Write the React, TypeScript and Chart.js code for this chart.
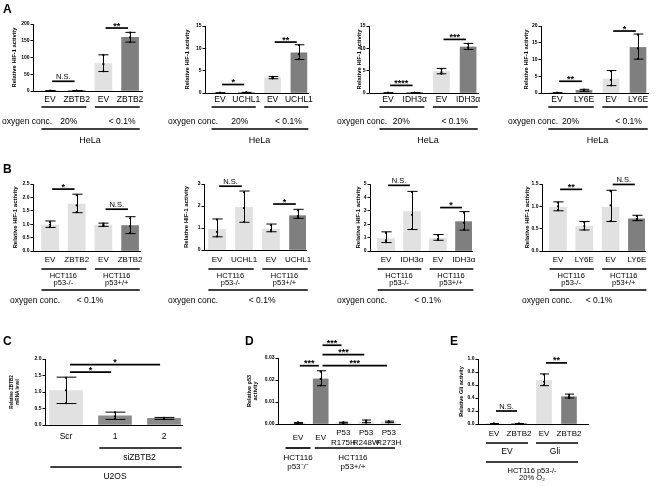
import React, { useEffect, useRef } from 'react';
import { Chart, registerables } from 'chart.js';

Chart.register(...registerables);

const W = 659;
const H = 486;
const FF = "'Liberation Sans', Arial, Helvetica, sans-serif";
const LIGHT = '#e1e1e1';
const DARK = '#7f7f7f';
const MID = '#8b8b8b';

const Y_HIF = 'Relative HIF-1 activity';
const NORMOXIA = '20%';
const HYPOXIA = '< 0.1%';
const OXY = 'oxygen conc.';

// ---------- Panel A ----------
const A1_CATS = ['EV', 'ZBTB2', 'EV', 'ZBTB2'];
const A1_MEAN = [0.6, 0.6, 82, 160];
const A1_LOW = [0.4, 0.4, 58, 146];
const A1_HIGH = [0.8, 0.8, 108, 175];
const A1_PTS = [[0.3, 0.6, 0.8], [0.4, 0.6, 0.8], [59, 80, 107], [146, 160, 174]];
const A1_SIG = [{ a: 0, b: 1, y: 29, t: 'N.S.' }, { a: 2, b: 3, y: 188, t: '**' }];

const A2_CATS = ['EV', 'UCHL1', 'EV', 'UCHL1'];
const A2_MEAN = [0.02, 0.1, 3.4, 9.0];
const A2_LOW = [0.01, 0.05, 3.2, 7.5];
const A2_HIGH = [0.03, 0.15, 3.7, 10.8];
const A2_PTS = [[0.01, 0.02, 0.03], [0.06, 0.1, 0.14], [3.25, 3.4, 3.6], [7.6, 8.7, 10.7]];
const A2_SIG = [{ a: 0, b: 1, y: 1.9, t: '*' }, { a: 2, b: 3, y: 11.4, t: '**' }];

const A3_CATS = ['EV', 'IDH3α', 'EV', 'IDH3α'];
const A3_MEAN = [0.02, 0.03, 4.8, 10.3];
const A3_LOW = [0.01, 0.02, 4.3, 9.75];
const A3_HIGH = [0.03, 0.04, 5.5, 11.1];
const A3_PTS = [[0.01, 0.02, 0.03], [0.02, 0.03, 0.04], [4.3, 4.6, 5.4], [9.8, 10.2, 11.0]];
const A3_SIG = [{ a: 0, b: 1, y: 1.7, t: '****' }, { a: 2, b: 3, y: 12.0, t: '***' }];

const A4_CATS = ['EV', 'LY6E', 'EV', 'LY6E'];
const A4_MEAN = [0.05, 0.8, 4.2, 13.6];
const A4_LOW = [0.03, 0.5, 2.2, 10.1];
const A4_HIGH = [0.07, 1.1, 6.7, 17.6];
const A4_PTS = [[0.03, 0.05, 0.07], [0.6, 0.8, 1.0], [2.3, 3.9, 6.5], [10.2, 13.3, 17.4]];
const A4_SIG = [{ a: 0, b: 1, y: 3.5, t: '**' }, { a: 2, b: 3, y: 18.5, t: '*' }];

// ---------- Panel B ----------
const B1_CATS = ['EV', 'ZBTB2', 'EV', 'ZBTB2'];
const B1_MEAN = [0.97, 1.75, 0.97, 0.95];
const B1_LOW = [0.88, 1.43, 0.92, 0.65];
const B1_HIGH = [1.12, 2.12, 1.04, 1.28];
const B1_PTS = [[0.9, 0.98, 1.08], [1.45, 1.7, 2.08], [0.93, 0.97, 1.02], [0.68, 0.92, 1.22]];
const B1_SIG = [{ a: 0, b: 1, y: 2.31, t: '*' }, { a: 2, b: 3, y: 1.56, t: 'N.S.' }];

const B2_CATS = ['EV', 'UCHL1', 'EV', 'UCHL1'];
const B2_MEAN = [0.94, 1.94, 0.95, 1.56];
const B2_LOW = [0.6, 1.26, 0.83, 1.44];
const B2_HIGH = [1.41, 2.68, 1.18, 1.85];
const B2_PTS = [[0.62, 0.82, 1.38], [1.28, 1.9, 2.62], [0.85, 0.9, 1.12], [1.46, 1.55, 1.8]];
const B2_SIG = [{ a: 0, b: 1, y: 2.9, t: 'N.S.' }, { a: 2, b: 3, y: 2.09, t: '*' }];

const B3_CATS = ['EV', 'IDH3α', 'EV', 'IDH3α'];
const B3_MEAN = [0.93, 2.94, 0.93, 2.19];
const B3_LOW = [0.63, 1.6, 0.8, 1.56];
const B3_HIGH = [1.43, 4.45, 1.23, 2.94];
const B3_PTS = [[0.66, 0.8, 1.35], [1.65, 2.7, 4.4], [0.82, 0.9, 1.15], [1.6, 2.1, 2.85]];
const B3_SIG = [{ a: 0, b: 1, y: 4.9, t: 'N.S.' }, { a: 2, b: 3, y: 3.24, t: '*' }];

const B4_CATS = ['EV', 'LY6E', 'EV', 'LY6E'];
const B4_MEAN = [0.98, 0.55, 0.98, 0.72];
const B4_LOW = [0.9, 0.47, 0.66, 0.68];
const B4_HIGH = [1.1, 0.66, 1.36, 0.8];
const B4_PTS = [[0.92, 1.0, 1.08], [0.48, 0.56, 0.64], [0.67, 1.02, 1.34], [0.69, 0.72, 0.78]];
const B4_SIG = [{ a: 0, b: 1, y: 1.38, t: '**' }, { a: 2, b: 3, y: 1.49, t: 'N.S.' }];

// ---------- Panel C ----------
const C_CATS = ['Scr', '1', '2'];
const C_MEAN = [1.04, 0.28, 0.2];
const C_LOW = [0.65, 0.17, 0.17];
const C_HIGH = [1.45, 0.39, 0.23];
const C_PTS = [[0.66, 1.05, 1.43], [0.19, 0.26, 0.38], [0.18, 0.2, 0.22]];
const C_SIG = [{ a: 0, b: 1, y: 1.6, t: '*' }, { a: 0, b: 2, y: 1.83, t: '*' }];

// ---------- Panel D ----------
const D_CATS = ['EV', 'EV', 'P53\nR175H', 'P53\nR248W', 'P53\nR273H'];
const D_MEAN = [0.0005, 0.0205, 0.0006, 0.001, 0.0009];
const D_LOW = [0.0003, 0.0174, 0.0004, 0.0006, 0.0006];
const D_HIGH = [0.0007, 0.0242, 0.0008, 0.0018, 0.0013];
const D_PTS = [[0.0003, 0.0005, 0.0007], [0.0176, 0.0205, 0.0238], [0.0005, 0.0006, 0.0008], [0.0006, 0.001, 0.0016], [0.0007, 0.0009, 0.0012]];
const D_SIG = [
  { a: 0, b: 1, y: 0.0265, t: '***' },
  { a: 1, b: 2, y: 0.0358, t: '***' },
  { a: 1, b: 3, y: 0.0315, t: '***' },
  { a: 1, b: 4, y: 0.0265, t: '***' },
];

// ---------- Panel E ----------
const E_CATS = ['EV', 'ZBTB2', 'EV', 'ZBTB2'];
const E_MEAN = [0.005, 0.004, 0.67, 0.42];
const E_LOW = [0.003, 0.002, 0.59, 0.4];
const E_HIGH = [0.007, 0.006, 0.77, 0.46];
const E_PTS = [[0.003, 0.005, 0.007], [0.002, 0.004, 0.006], [0.6, 0.65, 0.76], [0.4, 0.42, 0.45]];
const E_SIG = [{ a: 0, b: 1, y: 0.2, t: 'N.S.' }, { a: 2, b: 3, y: 0.94, t: '**' }];

const A_COLORS = [LIGHT, DARK, LIGHT, DARK];
const B_COLORS = [LIGHT, LIGHT, LIGHT, DARK];

const aLines = [{ a: 0, b: 1, y: 107 }, { a: 2, b: 3, y: 107 }, { a: 0, b: 3, y: 129 }];
const bLines = [{ a: 0, b: 1, y: 269 }, { a: 2, b: 3, y: 269 }, { a: 0, b: 3, y: 290 }];

function aTexts(oxyX: number, nDx: number, hDx: number) {
  return [
    { px: oxyX, y: 122, t: OXY, align: 'left' },
    { x: 0.5 + nDx, y: 122, t: NORMOXIA },
    { x: 2.5 + hDx, y: 122, t: HYPOXIA },
    { x: 1.5, y: 141, t: 'HeLa', size: 9 },
  ];
}
function bTexts(oxyX: number, hX: number) {
  return [
    { x: 0.5, y: 279.5, t: 'HCT116\np53-/-', size: 7.5, lh: 7 },
    { x: 2.5, y: 279.5, t: 'HCT116\np53+/+', size: 7.5, lh: 7 },
    { px: oxyX, y: 300.5, t: OXY, align: 'left' },
    { x: hX, y: 300.5, t: HYPOXIA },
  ];
}

const CFGS: any[] = [
  { cats: A1_CATS, mean: A1_MEAN, low: A1_LOW, high: A1_HIGH, pts: A1_PTS, colors: A_COLORS, sig: A1_SIG,
    yMax: 200, yStep: 50, yDec: 0, title: Y_HIF, titleSize: 5.8,
    L: 33, R: 142, T: 24, B: 91, c0: 50, s: 26.7, barW: 17, YW: 22, catY: 100, catSize: 8.5,
    lines: aLines, texts: aTexts(2, 0.2, 0.2) },
  { cats: A2_CATS, mean: A2_MEAN, low: A2_LOW, high: A2_HIGH, pts: A2_PTS, colors: A_COLORS, sig: A2_SIG,
    yMax: 15, yStep: 5, yDec: 0, title: Y_HIF, titleSize: 5.8,
    L: 205, R: 308, T: 26, B: 93, c0: 220, s: 26.3, barW: 16, YW: 21, catY: 100, catSize: 8.5,
    lines: aLines, texts: aTexts(168, 0.25, 0.1) },
  { cats: A3_CATS, mean: A3_MEAN, low: A3_LOW, high: A3_HIGH, pts: A3_PTS, colors: A_COLORS, sig: A3_SIG,
    yMax: 15, yStep: 5, yDec: 0, title: Y_HIF, titleSize: 5.8,
    L: 369, R: 478, T: 26, B: 93, c0: 388, s: 26.7, barW: 16, YW: 13, catY: 100, catSize: 8.5,
    lines: aLines, texts: aTexts(337, 0, 0) },
  { cats: A4_CATS, mean: A4_MEAN, low: A4_LOW, high: A4_HIGH, pts: A4_PTS, colors: A_COLORS, sig: A4_SIG,
    yMax: 20, yStep: 5, yDec: 0, title: Y_HIF, titleSize: 5.8,
    L: 541, R: 648, T: 26, B: 93, c0: 557, s: 27, barW: 16, YW: 18, catY: 100, catSize: 8.5,
    lines: aLines, texts: aTexts(508, 0, 0.15) },
  { cats: B1_CATS, mean: B1_MEAN, low: B1_LOW, high: B1_HIGH, pts: B1_PTS, colors: B_COLORS, sig: B1_SIG,
    yMax: 2.5, yStep: 0.5, yDec: 1, title: Y_HIF, titleSize: 6,
    L: 33, R: 140, T: 184, B: 251, c0: 50, s: 26.7, barW: 17, YW: 21, catY: 260, catSize: 8,
    lines: bLines, texts: bTexts(10, 1.5) },
  { cats: B2_CATS, mean: B2_MEAN, low: B2_LOW, high: B2_HIGH, pts: B2_PTS, colors: B_COLORS, sig: B2_SIG,
    yMax: 3, yStep: 1, yDec: 0, title: Y_HIF, titleSize: 6,
    L: 204, R: 306, T: 184, B: 250, c0: 217, s: 27, barW: 17, YW: 21, catY: 260, catSize: 8,
    lines: bLines, texts: bTexts(168, 1.67) },
  { cats: B3_CATS, mean: B3_MEAN, low: B3_LOW, high: B3_HIGH, pts: B3_PTS, colors: B_COLORS, sig: B3_SIG,
    yMax: 5, yStep: 1, yDec: 0, title: Y_HIF, titleSize: 6,
    L: 370, R: 472, T: 184, B: 251, c0: 386, s: 26, barW: 17, YW: 15, catY: 260, catSize: 8,
    lines: bLines, texts: bTexts(337, 1.6) },
  { cats: B4_CATS, mean: B4_MEAN, low: B4_LOW, high: B4_HIGH, pts: B4_PTS, colors: B_COLORS, sig: B4_SIG,
    yMax: 1.5, yStep: 0.5, yDec: 1, title: Y_HIF, titleSize: 6,
    L: 542, R: 645, T: 184, B: 251, c0: 558, s: 26.3, barW: 17, YW: 18, catY: 260, catSize: 8,
    lines: bLines, texts: bTexts(522, 1.56) },
  { cats: C_CATS, mean: C_MEAN, low: C_LOW, high: C_HIGH, pts: C_PTS, colors: [LIGHT, MID, MID], sig: C_SIG,
    yMax: 2, yStep: 0.5, yDec: 1, title: ['Relative ZBTB2', 'mRNA level'], titleSize: 4.6,
    L: 45, R: 182, T: 359, B: 425, c0: 66, s: 49, barW: 33, YW: 36, catY: 437, catSize: 8.5,
    lines: [{ a: 1, b: 2, y: 448 }, { a: 0, b: 2, y: 467 }],
    texts: [{ x: 1.5, y: 458, t: 'siZBTB2' }, { x: 1, y: 477, t: 'U2OS' }] },
  { cats: D_CATS, mean: D_MEAN, low: D_LOW, high: D_HIGH, pts: D_PTS, colors: [LIGHT, DARK, LIGHT, LIGHT, LIGHT], sig: D_SIG,
    yMax: 0.03, yStep: 0.01, yDec: 2, title: ['Relative p53', 'activity'], titleSize: 5.5,
    L: 278, R: 400, T: 358, B: 424, c0: 298, s: 22.7, barW: 15, YW: 32, catY: 438, catSize: 8, catLH: 10,
    lines: [{ a: 0, b: 0, y: 448, el: 0.55, er: 0.55 }, { a: 1, b: 4, y: 448, el: 0.26, er: 0.27 }],
    texts: [{ x: 0, y: 462.5, t: 'HCT116\np53⁻/⁻', size: 8, lh: 9 }, { x: 2.42, y: 462.5, t: 'HCT116\np53+/+', size: 8, lh: 9 }] },
  { cats: E_CATS, mean: E_MEAN, low: E_LOW, high: E_HIGH, pts: E_PTS, colors: A_COLORS, sig: E_SIG,
    yMax: 1, yStep: 0.2, yDec: 1, title: 'Relative Gli activity', titleSize: 5.5,
    L: 478, R: 588, T: 359, B: 424, c0: 494, s: 25, barW: 15, YW: 20, catY: 434, catSize: 8,
    lines: [{ a: 0, b: 1, y: 443 }, { a: 2, b: 3, y: 443 }, { a: 0, b: 3, y: 462 }],
    texts: [{ x: 0.52, y: 452, t: 'EV' }, { x: 2.44, y: 452, t: 'Gli' }, { x: 1.52, y: 474.5, t: 'HCT116 p53-/-\n20% O₂', size: 7.5, lh: 7.5 }] },
];

const font = (size: number, bold = false) => `${bold ? 'bold ' : ''}${size}px ${FF}`;

function drawMulti(ctx: CanvasRenderingContext2D, t: string, x: number, y: number, lh: number) {
  const parts = t.split('\n');
  const n = parts.length;
  parts.forEach((p, k) => ctx.fillText(p, x, y + (k - (n - 1) / 2) * lh));
}

function makePlugin(c: any) {
  return {
    id: 'annot',
    afterDatasetsDraw(chart: any) {
      const ctx = chart.ctx, xs = chart.scales.x, ys = chart.scales.y;
      ctx.save();
      ctx.strokeStyle = '#000';
      ctx.lineWidth = 1;
      const cw = c.barW * 0.3;
      c.mean.forEach((_: number, i: number) => {
        const x = Math.round(xs.getPixelForValue(i)) + 0.5;
        const y1 = ys.getPixelForValue(c.low[i]);
        const y2 = ys.getPixelForValue(c.high[i]);
        ctx.beginPath();
        ctx.moveTo(x, y1); ctx.lineTo(x, y2);
        ctx.moveTo(x - cw, y1); ctx.lineTo(x + cw, y1);
        ctx.moveTo(x - cw, y2); ctx.lineTo(x + cw, y2);
        ctx.stroke();
      });
      ctx.restore();
    },
    afterDraw(chart: any) {
      const ctx = chart.ctx, xs = chart.scales.x, ys = chart.scales.y;
      ctx.save();
      ctx.fillStyle = '#000';
      ctx.strokeStyle = '#000';
      // significance bars
      c.sig.forEach((s: any) => {
        const x1 = xs.getPixelForValue(s.a + 0.08);
        const x2 = xs.getPixelForValue(s.b - 0.08);
        const y = ys.getPixelForValue(s.y);
        ctx.lineWidth = 1.7;
        ctx.beginPath(); ctx.moveTo(x1, y); ctx.lineTo(x2, y); ctx.stroke();
        const star = s.t.includes('*');
        ctx.font = star ? font(9, true) : font(7.5);
        ctx.textAlign = 'center';
        ctx.textBaseline = 'alphabetic';
        ctx.fillText(s.t, (x1 + x2) / 2, star ? y + 0.5 : y - 2);
      });
      // category labels
      ctx.font = font(c.catSize);
      ctx.textAlign = 'center';
      ctx.textBaseline = 'middle';
      c.cats.forEach((t: string, i: number) => drawMulti(ctx, t, xs.getPixelForValue(i), c.catY, c.catLH || 9));
      // grouping lines
      ctx.lineWidth = 1.7;
      c.lines.forEach((l: any) => {
        const x1 = xs.getPixelForValue(l.a - (l.el ?? 0.32));
        const x2 = xs.getPixelForValue(l.b + (l.er ?? 0.36));
        ctx.beginPath(); ctx.moveTo(x1, l.y); ctx.lineTo(x2, l.y); ctx.stroke();
      });
      // texts
      c.texts.forEach((t: any) => {
        ctx.font = font(t.size || 8.5);
        ctx.textAlign = t.align || 'center';
        ctx.textBaseline = 'middle';
        const x = t.px !== undefined ? t.px : xs.getPixelForValue(t.x);
        drawMulti(ctx, t.t, x, t.y, t.lh || 9);
      });
      ctx.restore();
    },
  };
}

function Panel({ c }: { c: any }) {
  const ref = useRef<HTMLCanvasElement>(null);
  useEffect(() => {
    const xMin = -(c.c0 - c.L) / c.s;
    const xMax = (c.R - c.c0) / c.s;
    const chart = new Chart(ref.current as HTMLCanvasElement, {
      type: 'bar',
      data: {
        datasets: [
          {
            type: 'bar',
            data: c.mean.map((v: number, i: number) => ({ x: i, y: v })),
            backgroundColor: c.colors,
            borderWidth: 0,
            barThickness: c.barW,
            order: 2,
          } as any,
          {
            type: 'scatter',
            data: c.pts.flatMap((arr: number[], i: number) => arr.map((v) => ({ x: i, y: v }))),
            pointRadius: 1.1,
            pointBackgroundColor: '#000',
            pointBorderWidth: 0,
            clip: false,
            order: 1,
          } as any,
        ],
      },
      options: {
        responsive: false,
        animation: false,
        devicePixelRatio: 1,
        events: [],
        layout: { padding: { left: c.L - c.YW, right: W - c.R, top: c.T, bottom: H - c.B } },
        plugins: { legend: { display: false }, tooltip: { enabled: false } },
        scales: {
          x: {
            type: 'linear',
            min: xMin,
            max: xMax,
            offset: false,
            grid: { display: false },
            ticks: { display: false },
            border: { display: true, color: '#000', width: 1 },
            afterFit: (s: any) => { s.height = 0; },
          },
          y: {
            min: 0,
            max: c.yMax,
            ticks: {
              stepSize: c.yStep,
              color: '#000',
              padding: 1,
              font: { family: FF, size: 5, weight: 'bold' },
              callback: (v: any) => Number(v).toFixed(c.yDec),
            },
            grid: { display: true, drawOnChartArea: false, drawTicks: true, tickLength: 2.5, color: '#000', lineWidth: 1 },
            border: { display: true, color: '#000', width: 1 },
            title: {
              display: true,
              text: c.title,
              color: '#000',
              padding: 0,
              font: { family: FF, size: c.titleSize, weight: 'bold', lineHeight: 1.2 },
            },
            afterFit: (s: any) => { s.width = c.YW; },
          },
        },
      } as any,
      plugins: [makePlugin(c)],
    });
    return () => chart.destroy();
  }, []);
  return (
    <canvas
      ref={ref}
      width={W}
      height={H}
      style={{ position: 'absolute', left: 0, top: 0, width: W, height: H }}
    />
  );
}

const LETTERS = [
  { t: 'A', x: 3, y: 3 },
  { t: 'B', x: 3, y: 163 },
  { t: 'C', x: 3, y: 335 },
  { t: 'D', x: 245, y: 335 },
  { t: 'E', x: 450, y: 335 },
];

export default function App() {
  return (
    <div style={{ position: 'absolute', left: 0, top: 0, width: W, height: H, background: '#fff', overflow: 'hidden' }}>
      {CFGS.map((c, i) => (
        <Panel key={i} c={c} />
      ))}
      {LETTERS.map((l) => (
        <div
          key={l.t}
          style={{ position: 'absolute', left: l.x, top: l.y, font: `bold 12px ${FF}`, lineHeight: '12px', color: '#000' }}
        >
          {l.t}
        </div>
      ))}
    </div>
  );
}
